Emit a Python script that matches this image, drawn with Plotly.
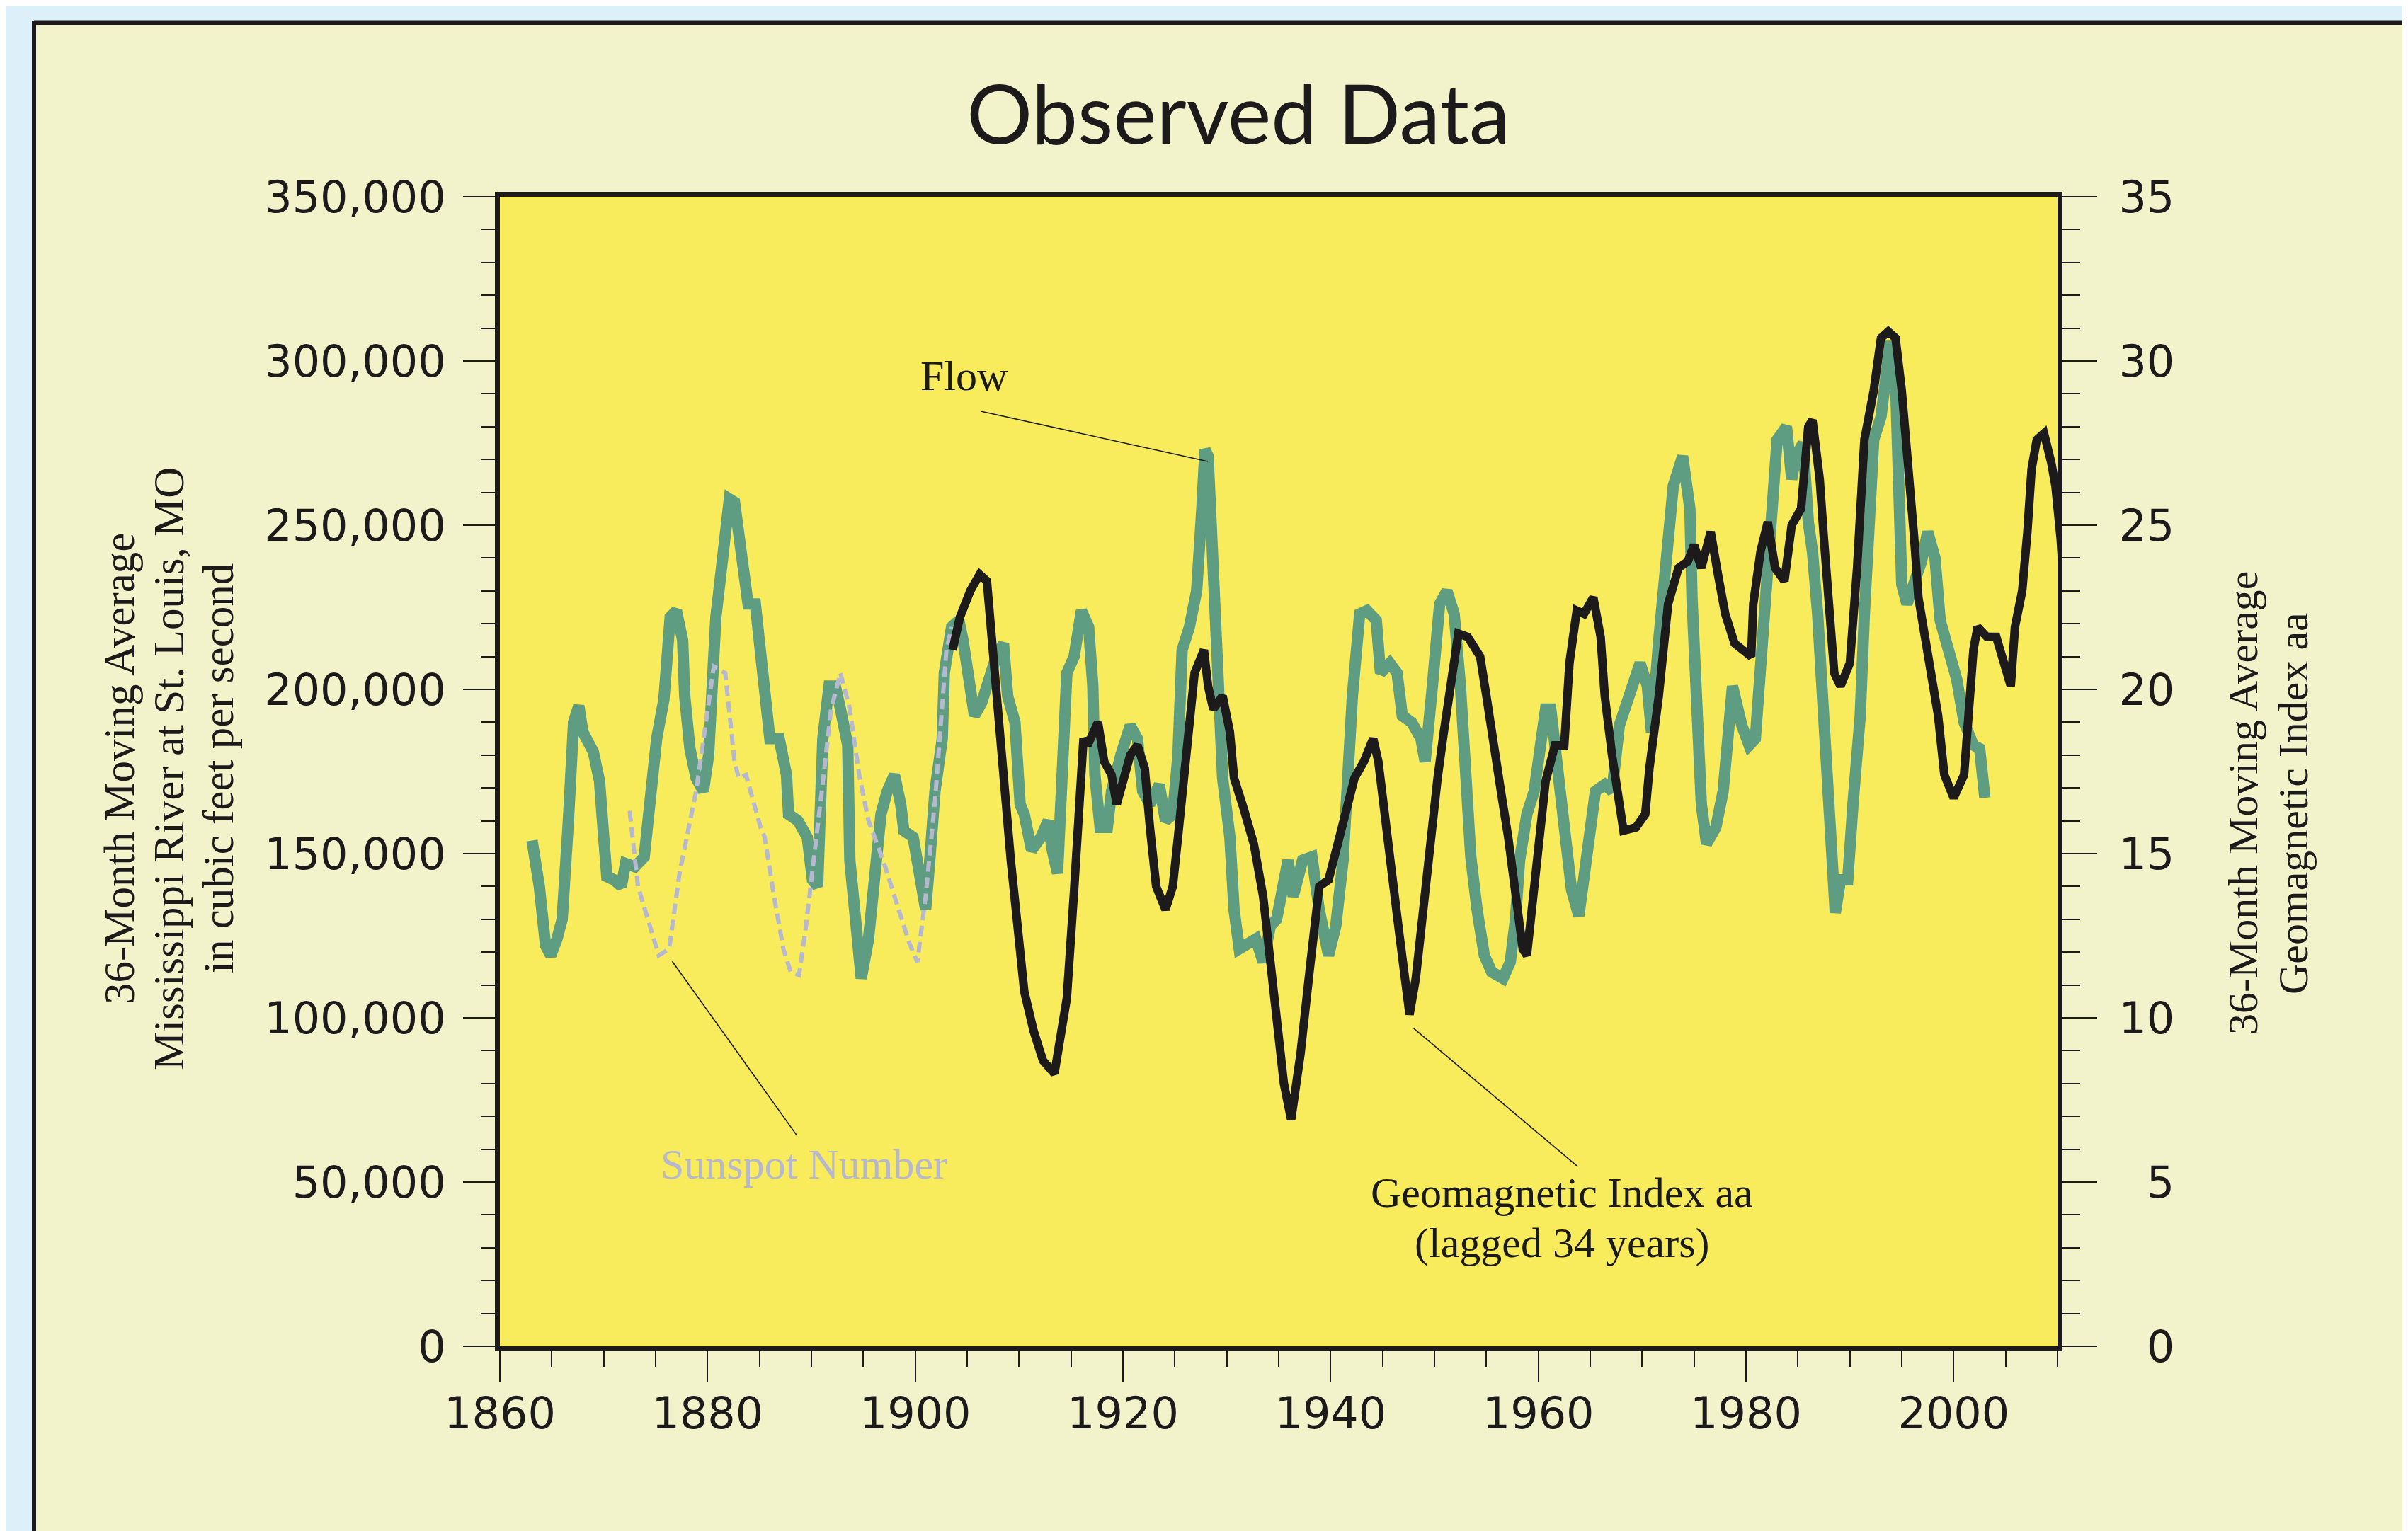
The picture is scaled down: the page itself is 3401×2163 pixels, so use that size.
import plotly.graph_objects as go

# ---------------- data ----------------
flow_year = [1863.1, 1863.8, 1864.4, 1864.9, 1865.5, 1866.0, 1866.6, 1867.1, 1867.6, 1868.0,
             1869.0, 1869.6, 1870.0, 1870.3, 1871.0, 1871.7, 1872.1, 1873.0, 1873.9, 1874.4,
             1875.1, 1875.8, 1876.4, 1877.0, 1877.6, 1877.8, 1878.3, 1878.9, 1879.6, 1880.1,
             1880.3, 1880.8, 1881.2, 1881.7, 1882.1, 1882.6, 1883.3, 1883.9, 1884.6, 1885.1,
             1885.5, 1886.0, 1886.9, 1887.6, 1887.8, 1888.7, 1889.6, 1890.1, 1890.6, 1890.9,
             1891.1, 1891.7, 1892.3, 1892.8, 1893.5, 1893.7, 1894.2, 1894.8, 1895.5, 1896.0,
             1896.7, 1897.3, 1898.0, 1898.6, 1898.9, 1899.8, 1900.3, 1901.0, 1901.4, 1901.9,
             1902.6, 1902.8, 1903.5, 1904.2, 1904.6, 1905.3, 1905.7, 1906.4, 1907.1, 1907.8,
             1908.5, 1908.9, 1909.6, 1910.1, 1910.5, 1911.2, 1912.1, 1912.8, 1913.2, 1913.7,
             1914.1, 1914.6, 1915.3, 1916.0, 1916.7, 1917.1, 1917.3, 1917.8, 1918.5, 1918.9,
             1919.8, 1920.7, 1921.4, 1921.9, 1922.6, 1923.5, 1924.1, 1924.8, 1925.3, 1925.7,
             1926.4, 1927.1, 1927.6, 1927.9, 1928.2, 1928.6, 1928.8, 1929.2, 1929.6, 1930.3,
             1930.7, 1931.2, 1932.1, 1932.8, 1933.5, 1934.2, 1934.8, 1935.5, 1935.9, 1936.4,
             1937.3, 1938.2, 1938.9, 1939.8, 1940.5, 1941.2, 1941.6, 1942.1, 1942.8, 1943.5,
             1944.4, 1944.8, 1945.7, 1946.4, 1946.9, 1947.8, 1948.7, 1949.1, 1949.8, 1950.5,
             1951.2, 1951.9, 1952.5, 1953.0, 1953.5, 1954.1, 1954.8, 1955.5, 1956.6, 1957.3,
             1957.8, 1958.2, 1958.9, 1959.6, 1960.3, 1960.7, 1961.2, 1961.9, 1962.5, 1963.2,
             1963.9, 1964.8, 1965.5, 1966.4, 1967.1, 1967.8, 1968.7, 1969.8, 1970.5, 1970.9,
             1971.6, 1972.3, 1973.0, 1973.9, 1974.6, 1974.8, 1975.3, 1975.7, 1976.2, 1977.1,
             1977.8, 1978.2, 1978.7, 1979.6, 1980.3, 1980.9, 1981.6, 1982.3, 1983.0, 1983.9,
             1984.4, 1984.8, 1985.5, 1986.0, 1986.4, 1986.9, 1987.3, 1987.8, 1988.2, 1988.6,
             1989.1, 1989.8, 1990.3, 1991.0, 1991.4, 1991.9, 1992.3, 1993.0, 1993.5, 1993.9,
             1994.4, 1994.6, 1994.8, 1995.0, 1995.5, 1996.2, 1996.9, 1997.5, 1998.2, 1998.7,
             1999.6, 2000.3, 2001.0, 2001.9, 2002.5, 2003.0]
flow_cfs = [154000, 140000, 122000, 119000, 124000, 130000, 160000, 190000, 195000, 187000,
            181000, 172000, 155000, 143000, 142000, 140000, 147000, 146000, 149000, 165000,
            185000, 197000, 222000, 224000, 215000, 198000, 182000, 173000, 169000, 180000,
            198000, 222000, 233000, 248000, 258000, 257000, 242000, 226000, 226000, 212000,
            205000, 185000, 185000, 174000, 162000, 160000, 155000, 142000, 140000, 165000,
            185000, 201000, 201000, 194000, 183000, 148000, 130000, 112000, 124000, 140000,
            162000, 169000, 174000, 165000, 157000, 155000, 144000, 133000, 148000, 169000,
            185000, 205000, 219000, 221000, 215000, 198000, 192000, 196000, 203000, 210000,
            214000, 198000, 190000, 165000, 162000, 151000, 155000, 160000, 151000, 144000,
            171000, 205000, 210000, 224000, 219000, 201000, 174000, 158000, 158000, 169000,
            180000, 189000, 185000, 169000, 165000, 171000, 160000, 162000, 180000, 212000,
            219000, 230000, 255000, 273000, 271000, 242000, 212000, 198000, 173000, 155000,
            133000, 121000, 123000, 124000, 117000, 128000, 130000, 140000, 148000, 137000,
            148000, 149000, 133000, 119000, 128000, 148000, 174000, 198000, 223000, 224000,
            221000, 205000, 208000, 205000, 192000, 190000, 185000, 178000, 201000, 226000,
            230000, 223000, 201000, 174000, 149000, 133000, 119000, 114000, 112000, 117000,
            130000, 148000, 162000, 169000, 185000, 194000, 194000, 173000, 162000, 139000,
            131000, 155000, 169000, 171000, 169000, 189000, 198000, 208000, 201000, 187000,
            215000, 240000, 262000, 271000, 255000, 228000, 201000, 165000, 153000, 158000,
            169000, 187000, 201000, 189000, 183000, 185000, 212000, 246000, 276000, 280000,
            264000, 271000, 275000, 251000, 242000, 223000, 198000, 174000, 151000, 132000,
            142000, 142000, 165000, 192000, 223000, 255000, 276000, 283000, 296000, 306000,
            294000, 278000, 255000, 232000, 226000, 233000, 239000, 248000, 240000, 221000,
            212000, 203000, 190000, 183000, 182000, 167000]

aa_year = [1903.6, 1904.3, 1905.3, 1906.2, 1906.9, 1907.3, 1908.0, 1908.5, 1909.2, 1909.8,
           1910.1, 1910.5, 1911.4, 1912.3, 1913.4, 1913.9, 1914.6, 1915.3, 1915.7, 1916.2,
           1916.6, 1917.6, 1918.2, 1918.9, 1919.4, 1920.1, 1920.7, 1921.4, 1922.1, 1922.6,
           1923.2, 1924.1, 1924.8, 1925.3, 1925.7, 1926.2, 1926.9, 1927.8, 1928.2, 1928.7,
           1929.6, 1930.3, 1930.7, 1931.6, 1932.6, 1933.5, 1933.9, 1934.6, 1935.5, 1936.2,
           1937.1, 1938.0, 1938.5, 1938.9, 1939.8, 1940.5, 1941.4, 1942.3, 1943.2, 1944.1,
           1944.6, 1945.3, 1945.9, 1946.6, 1947.3, 1947.6, 1948.2, 1948.9, 1949.6, 1950.3,
           1950.9, 1951.6, 1952.3, 1953.2, 1954.4, 1955.0, 1955.7, 1956.4, 1957.1, 1957.8,
           1958.5, 1958.9, 1959.6, 1960.3, 1960.7, 1961.6, 1962.5, 1963.0, 1963.7, 1964.4,
           1965.3, 1966.0, 1966.4, 1967.1, 1967.8, 1968.2, 1969.4, 1970.3, 1970.7, 1971.6,
           1972.5, 1973.5, 1974.4, 1975.0, 1975.7, 1976.6, 1977.3, 1978.0, 1978.9, 1979.8,
           1980.5, 1980.7, 1981.4, 1982.1, 1982.8, 1983.7, 1984.4, 1985.3, 1986.0, 1986.4,
           1987.1, 1987.5, 1988.0, 1988.5, 1989.1, 1990.0, 1990.7, 1991.4, 1992.3, 1993.0,
           1993.7, 1994.4, 1995.0, 1995.7, 1996.2, 1996.6, 1997.5, 1998.5, 1999.1, 2000.0,
           2001.0, 2001.4, 2001.9, 2002.3, 2003.2, 2004.1, 2005.0, 2005.5, 2005.9, 2006.6,
           2007.1, 2007.5, 2008.0, 2008.7, 2009.4, 2009.8, 2010.3, 2010.7, 2011.2]
aa_index = [21.2, 22.2, 23.0, 23.5, 23.3, 21.9, 19.8, 17.4, 14.8, 13.0,
            12.1, 10.8, 9.6, 8.7, 8.3, 9.2, 10.6, 13.9, 16.5, 18.5,
            18.3, 19.0, 17.8, 17.4, 16.5, 17.3, 18.0, 18.3, 17.6, 15.8,
            14.0, 13.3, 14.0, 15.5, 16.9, 18.7, 20.5, 21.2, 20.1, 19.4,
            19.8, 18.7, 17.3, 16.4, 15.3, 13.7, 12.6, 10.3, 8.0, 6.9,
            8.9, 11.5, 13.0, 14.0, 14.2, 15.1, 16.0, 17.3, 17.8, 18.5,
            17.8, 16.2, 14.4, 12.6, 10.5, 10.1, 11.2, 13.3, 15.7, 17.3,
            18.7, 20.3, 21.7, 21.6, 21.0, 19.8, 18.5, 16.9, 15.5, 14.0,
            12.1, 11.9, 13.9, 15.5, 17.2, 18.3, 18.3, 20.8, 22.4, 22.3,
            22.8, 21.6, 19.8, 18.0, 16.6, 15.7, 15.8, 16.2, 17.6, 19.8,
            22.6, 23.7, 23.9, 24.4, 23.7, 24.8, 23.5, 22.3, 21.4, 21.2,
            21.0, 22.6, 24.2, 25.1, 23.7, 23.3, 25.0, 25.5, 28.0, 28.2,
            26.4, 24.6, 22.6, 20.5, 20.1, 20.8, 23.7, 27.6, 29.1, 30.7,
            30.9, 30.7, 29.1, 26.7, 24.6, 22.8, 21.0, 19.2, 17.4, 16.7,
            17.4, 19.2, 21.2, 21.9, 21.6, 21.6, 20.5, 20.1, 21.9, 23.0,
            24.8, 26.7, 27.6, 27.8, 26.9, 26.2, 24.6, 22.6, 22.4]

sun_year = [1872.5, 1873.3, 1875.3, 1876.3, 1877.3, 1878.9, 1879.8, 1880.6, 1881.7, 1882.6,
            1883.0, 1883.7, 1885.1, 1885.5, 1886.4, 1887.3, 1888.0, 1888.8, 1889.4, 1890.1,
            1891.0, 1891.9, 1892.8, 1893.7, 1894.6, 1895.5, 1896.9, 1898.2, 1899.4, 1900.2,
            1901.0, 1901.9, 1902.6, 1903.0, 1903.5]
sun_scaled = [163000, 140000, 119000, 121000, 144000, 169000, 189000, 207000, 205000, 178000,
              173000, 174000, 158000, 155000, 137000, 121000, 114000, 113000, 126000, 144000,
              169000, 194000, 205000, 194000, 174000, 160000, 148000, 135000, 123000, 117000,
              137000, 166000, 194000, 212000, 219000]

left_ticks = [0, 50000, 100000, 150000, 200000, 250000, 300000, 350000]
right_ticks = [0, 5, 10, 15, 20, 25, 30, 35]
x_ticks = [1860, 1880, 1900, 1920, 1940, 1960, 1980, 2000]

# annotation text positions and leader lines (data coordinates)
labels = [
    dict(text="Flow", x=1904.7, y=295500, color="#1a1a1a"),
    dict(text="Sunspot Number", x=1889.3, y=55400, color="#b5b8ce"),
    dict(text="Geomagnetic Index aa", x=1962.3, y=46800, color="#1a1a1a"),
    dict(text="(lagged 34 years)", x=1962.3, y=31500, color="#1a1a1a"),
]
leaders = [
    ((1906.3, 284700), (1928.2, 269400)),
    ((1876.6, 117200), (1888.6, 64200)),
    ((1948.0, 96800), (1963.8, 54700)),
]

# ---------------- styles ----------------
INK = "#1c1a1a"
GREEN = "#5f9d83"
SUN = "#b5b8ce"
YELLOW = "#f8ec5c"
CREAM = "#f3f3cb"
BLUE = "#ddf0f9"
TICKFONT = dict(family="DejaVu Sans", size=62, color=INK)
SERIF = "Liberation Serif, Times New Roman"

W, H = 3401, 2163
L, R, T, B = 698, 2898, 270, 1894


def px(xp):
    return (xp - L) / (R - L)


def py(yp):
    return (B - yp) / (B - T)


fig = go.Figure()
fig.add_trace(go.Scatter(x=flow_year, y=flow_cfs, mode="lines", name="Flow",
                         line=dict(color=GREEN, width=16)))
fig.add_trace(go.Scatter(x=sun_year, y=sun_scaled, mode="lines", name="Sunspot Number",
                         line=dict(color=SUN, width=6, dash="15px,8px")))
fig.add_trace(go.Scatter(x=aa_year, y=aa_index, mode="lines", yaxis="y2",
                         name="Geomagnetic Index aa", line=dict(color=INK, width=12)))

shapes = [
    # light blue outer strips and black frame
    dict(type="rect", xref="paper", yref="paper", x0=px(-20), x1=px(W + 20), y0=py(24), y1=py(-20),
         fillcolor=BLUE, line=dict(width=0), layer="below"),
    dict(type="rect", xref="paper", yref="paper", x0=px(-20), x1=px(40), y0=py(H + 20), y1=py(24),
         fillcolor=BLUE, line=dict(width=0), layer="below"),
    dict(type="line", xref="paper", yref="paper", x0=px(40), x1=px(W + 20), y0=py(24), y1=py(24),
         line=dict(color=INK, width=7)),
    dict(type="line", xref="paper", yref="paper", x0=px(40), x1=px(40), y0=py(21), y1=py(H + 20),
         line=dict(color=INK, width=6)),
]
for (a, b) in leaders:
    shapes.append(dict(type="line", xref="x", yref="y", x0=a[0], y0=a[1], x1=b[0], y1=b[1],
                       line=dict(color=INK, width=1.6)))

annotations = []
for lab in labels:
    annotations.append(dict(text=lab["text"], x=lab["x"], y=lab["y"], xref="x", yref="y",
                            showarrow=False, xanchor="center", yanchor="middle",
                            font=dict(family=SERIF, size=60, color=lab["color"])))

left_title = ["36-Month Moving Average", "Mississippi River at St. Louis, MO", "in cubic feet per second"]
for i, t in enumerate(left_title):
    annotations.append(dict(text=t, x=px(160 + 70 * i), y=py(1078), xref="paper", yref="paper",
                            showarrow=False, textangle=-90, xanchor="center", yanchor="middle",
                            font=dict(family=SERIF, size=61, color=INK)))
right_title = ["36-Month Moving Average", "Geomagnetic Index aa"]
for i, t in enumerate(right_title):
    annotations.append(dict(text=t, x=px(3160 + 71 * i), y=py(1127), xref="paper", yref="paper",
                            showarrow=False, textangle=-90, xanchor="center", yanchor="middle",
                            font=dict(family=SERIF, size=60, color=INK)))

NB = "\u00a0"
right_text = [(NB * 2 + str(v)) if v < 10 else str(v) for v in right_ticks]

fig.update_layout(
    width=W, height=H,
    margin=dict(l=L, r=W - R, t=T, b=H - B, pad=0),
    paper_bgcolor=CREAM, plot_bgcolor=YELLOW,
    showlegend=False,
    title=dict(text="Observed Data", x=1741 / W, xref="container", xanchor="center",
               y=1 - 154 / H, yref="container", yanchor="middle",
               font=dict(family="Lato, Open Sans", size=116, color=INK)),
    xaxis=dict(range=[1860, 2010], tickmode="array", tickvals=x_ticks,
               ticks="outside", ticklen=43, tickwidth=2, tickcolor=INK,
               showline=True, linewidth=7, linecolor=INK, mirror=True, ticklabelstandoff=-8,
               showgrid=False, zeroline=False, tickfont=TICKFONT,
               minor=dict(tickmode="linear", tick0=1860, dtick=5, ticks="outside",
                          ticklen=23, tickwidth=2, tickcolor=INK, showgrid=False)),
    yaxis=dict(range=[0, 350000], tickmode="array", tickvals=left_ticks, tickformat=",d",
               ticks="outside", ticklen=45, tickwidth=2, tickcolor=INK,
               showline=True, linewidth=7, linecolor=INK, ticklabelstandoff=12,
               showgrid=False, zeroline=False, tickfont=TICKFONT,
               minor=dict(tickmode="linear", tick0=0, dtick=10000, ticks="outside",
                          ticklen=20, tickwidth=2, tickcolor=INK, showgrid=False)),
    yaxis2=dict(range=[0, 35], overlaying="y", side="right", anchor="x",
                tickmode="array", tickvals=right_ticks, ticktext=right_text,
                ticks="outside", ticklen=49, tickwidth=2, tickcolor=INK,
                showline=True, linewidth=7, linecolor=INK, ticklabelstandoff=18,
                showgrid=False, zeroline=False, tickfont=TICKFONT,
                minor=dict(tickmode="linear", tick0=0, dtick=1, ticks="outside",
                           ticklen=25, tickwidth=2, tickcolor=INK, showgrid=False)),
    shapes=shapes,
    annotations=annotations,
)

fig.write_html("out.html")
